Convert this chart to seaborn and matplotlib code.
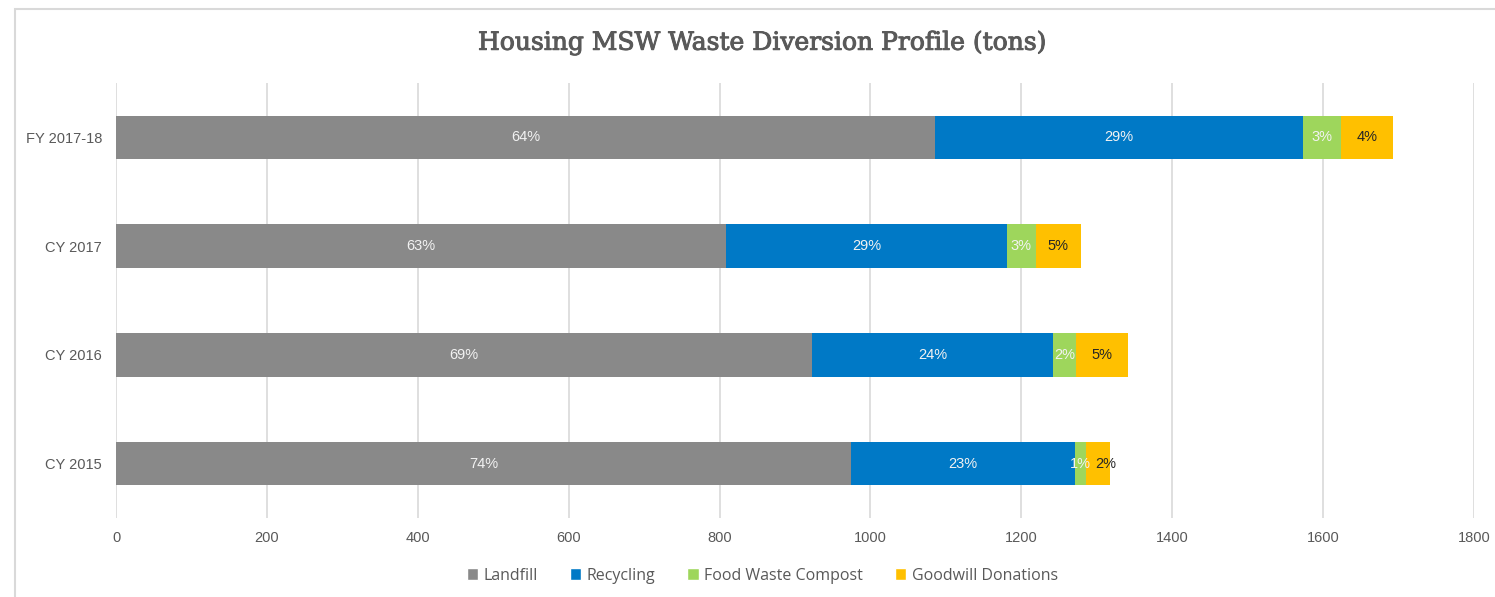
import pandas as pd
import matplotlib.pyplot as plt
import matplotlib.patheffects as pe
import seaborn as sns
from matplotlib.patches import Patch, Rectangle

periods = ["FY 2017-18", "CY 2017", "CY 2016", "CY 2015"]
landfill = [1085, 808, 922, 974]
recycling = [488, 373, 320, 297]
food_compost = [51, 38, 30, 15]
goodwill = [69, 60, 69, 32]

streams = ["Landfill", "Recycling", "Food Waste Compost", "Goodwill Donations"]
colors = ["#898989", "#0079C6", "#9ED65C", "#FFC000"]
label_colors = ["#f2f2f2", "#f2f2f2", "#f2f2f2", "#262626"]

df = pd.DataFrame({"period": periods, "Landfill": landfill, "Recycling": recycling,
                   "Food Waste Compost": food_compost, "Goodwill Donations": goodwill})
cum = df[streams].cumsum(axis=1)
totals = cum[streams[-1]]

sns.set_theme(style="white")
plt.rcParams["font.family"] = ["Liberation Sans", "DejaVu Sans"]

fig = plt.figure(figsize=(14.95, 5.97), dpi=100)
ax = fig.add_axes([0.0776, 0.1323, 0.9084, 0.7287])

# stacked bars: draw cumulative totals from the outermost segment inwards
for s, c in reversed(list(zip(streams, colors))):
    sns.barplot(x=cum[s], y=df["period"], orient="h", color=c, width=0.4,
                linewidth=0, saturation=1, ax=ax)

for k, (s, tc) in enumerate(zip(streams, label_colors)):
    for i in range(len(df)):
        v = df[s][i]
        # push the last label right when the segment before it is too thin to hold its own
        dx = 7 if (k == len(streams) - 1 and df[streams[k - 1]][i] < 20) else 0
        ax.annotate(f"{v / totals[i]:.0%}", (cum[s][i] - v / 2, i), xytext=(dx, 0),
                    textcoords="offset pixels", ha="center", va="center",
                    color=tc, fontsize=10.5)

ax.set_xlim(0, 1800)
ax.set_ylim(3.5, -0.5)
ax.set_xticks(range(0, 1801, 200))
ax.grid(axis="x", color="#d9d9d9", linewidth=1.2)
ax.set_axisbelow(True)
for sp in ax.spines.values():
    sp.set_visible(False)
ax.set_xlabel("")
ax.set_ylabel("")
ax.tick_params(axis="both", length=0, labelsize=10.5, labelcolor="#595959")
ax.tick_params(axis="x", pad=9)
ax.tick_params(axis="y", pad=10)

title = fig.text(0.51, 0.928, "Housing MSW Waste Diversion Profile (tons)", ha="center", va="center",
                 fontsize=18, color="#595959", family="DejaVu Serif")
title.set_path_effects([pe.withStroke(linewidth=0.7, foreground="#595959")])

handles = [Patch(facecolor=c, label=s) for s, c in zip(streams, colors)]
fig.legend(handles=handles, loc="center", bbox_to_anchor=(0.51, 0.036), ncol=4, frameon=False,
           handlelength=0.7, handleheight=0.7, handletextpad=0.35, columnspacing=2.0,
           prop={"family": "Open Sans", "size": 11.5}, labelcolor="#595959")

fig.patches.append(Rectangle((15 / 1495, -0.1), 1.2, 1 - 8.5 / 597 + 0.1, transform=fig.transFigure,
                             fill=False, edgecolor="#d9d9d9", linewidth=1.5))

fig.savefig("out.png", dpi=100)
